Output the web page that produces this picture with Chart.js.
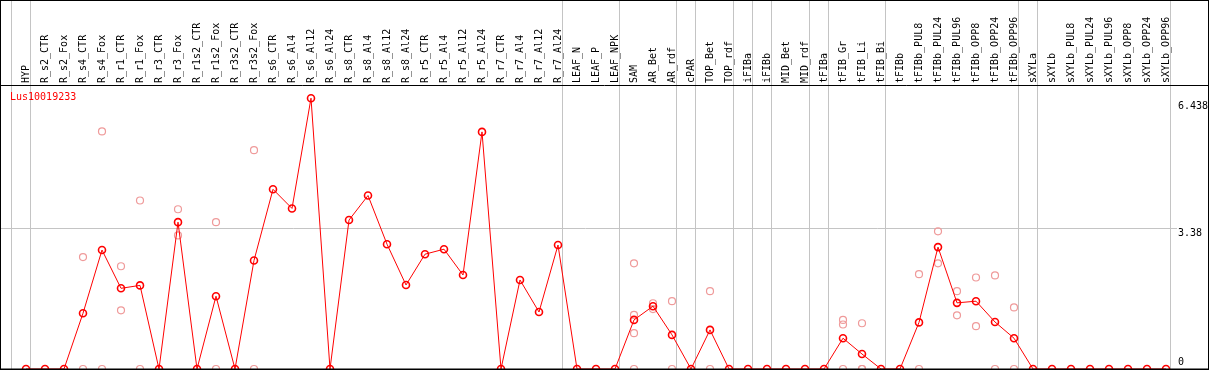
<!DOCTYPE html>
<html>
<head>
<meta charset="utf-8">
<script src="https://cdn.jsdelivr.net/npm/chart.js@4"></script>
<style>
  html, body { margin: 0; padding: 0; background: #fff; overflow: hidden; }
  #wrap { position: relative; width: 1209px; height: 370px; }
</style>
</head>
<body>
<div id="wrap"><canvas id="exprChart"></canvas></div>
<script>
// samples, in the order of the picture
const categories = [
    'HYP', 'R_s2_CTR', 'R_s2_Fox', 'R_s4_CTR', 'R_s4_Fox', 'R_r1_CTR', 'R_r1_Fox',
    'R_r3_CTR', 'R_r3_Fox', 'R_r1s2_CTR', 'R_r1s2_Fox', 'R_r3s2_CTR', 'R_r3s2_Fox',
    'R_s6_CTR', 'R_s6_Al4', 'R_s6_Al12', 'R_s6_Al24', 'R_s8_CTR', 'R_s8_Al4',
    'R_s8_Al12', 'R_s8_Al24', 'R_r5_CTR', 'R_r5_Al4', 'R_r5_Al12', 'R_r5_Al24',
    'R_r7_CTR', 'R_r7_Al4', 'R_r7_Al12', 'R_r7_Al24', 'LEAF_N', 'LEAF_P', 'LEAF_NPK',
    'SAM', 'AR_Bet', 'AR_rdf', 'cPAR', 'TOP_Bet', 'TOP_rdf', 'iFIBa', 'iFIBb',
    'MID_Bet', 'MID_rdf', 'tFIBa', 'tFIB_Gr', 'tFIB_Li', 'tFIB_Bi', 'tFIBb',
    'tFIBb_PUL8', 'tFIBb_PUL24', 'tFIBb_PUL96', 'tFIBb_OPP8', 'tFIBb_OPP24', 'tFIBb_OPP96',
    'sXYLa', 'sXYLb', 'sXYLb_PUL8', 'sXYLb_PUL24', 'sXYLb_PUL96', 'sXYLb_OPP8',
    'sXYLb_OPP24', 'sXYLb_OPP96'
];

// mean expression per sample
const meanValues = [
    0, 0, 0, 1.34, 2.86, 1.94, 2.01,
    0, 3.53, 0, 1.75, 0, 2.61,
    4.32, 3.86, 6.51, 0, 3.58, 4.17,
    3.00, 2.02, 2.76, 2.88, 2.26, 5.70,
    0, 2.14, 1.37, 2.98, 0, 0, 0,
    1.18, 1.51, 0.82, 0, 0.94, 0, 0, 0,
    0, 0, 0, 0.74, 0.36, 0, 0,
    1.12, 2.93, 1.59, 1.63, 1.13, 0.74,
    0, 0, 0, 0, 0, 0,
    0, 0
];

// single replicates (light circles)
const replicates = {
    'R_s4_CTR': [2.69, 0],
    'R_s4_Fox': [5.71, 0],
    'R_r1_CTR': [2.47, 1.41],
    'R_r1_Fox': [4.05, 0],
    'R_r3_Fox': [3.84, 3.21],
    'R_r1s2_Fox': [3.53, 0],
    'R_r3s2_Fox': [5.26, 0],
    'SAM': [2.54, 1.30, 0.86, 0],
    'AR_Bet': [1.58, 1.44],
    'AR_rdf': [1.63, 0],
    'TOP_Bet': [1.87, 0],
    'tFIB_Gr': [1.18, 1.07, 0],
    'tFIB_Li': [1.10, 0, 0],
    'tFIBb_PUL8': [2.28, 0],
    'tFIBb_PUL24': [3.31, 2.54],
    'tFIBb_PUL96': [1.87, 1.29],
    'tFIBb_OPP8': [2.20, 1.03],
    'tFIBb_OPP24': [2.25, 0],
    'tFIBb_OPP96': [1.48, 0]
};

// last sample of each tissue group (a grey line follows it)
const groupEnds = [
    '', 'HYP', 'R_r7_Al24', 'LEAF_NPK', 'AR_rdf', 'cPAR', 'TOP_rdf', 'iFIBa', 'iFIBb',
    'MID_rdf', 'tFIBa', 'tFIB_Bi', 'tFIBb_OPP96', 'sXYLa', 'sXYLb_OPP96'
];

const yTicks = [0, 3.38, 6.438];
const geneName = 'Lus10019233';

const FONT_FAMILY = '"DejaVu Sans Mono", "Liberation Mono", monospace';
const FONT = '10px ' + FONT_FAMILY;

const meanPoints = meanValues.map((v, i) => ({ x: i, y: v }));
const repPoints = [];
Object.keys(replicates).forEach(function(name) {
    const i = categories.indexOf(name);
    replicates[name].forEach(function(v) { repPoints.push({ x: i, y: v }); });
});

// grey separators, frame and labels
const decorPlugin = {
    id: 'decor',
    beforeDatasetsDraw(chart) {
        const ctx = chart.ctx;
        const xs = chart.scales.x;
        const area = chart.chartArea;
        ctx.save();
        ctx.strokeStyle = '#c4c4c4';
        ctx.lineWidth = 1;
        groupEnds.forEach(function(name) {
            const i = name === '' ? -1 : categories.indexOf(name);
            const px = Math.round(xs.getPixelForValue(i + 0.21)) + 0.5;
            ctx.beginPath();
            ctx.moveTo(px, 0);
            ctx.lineTo(px, area.bottom);
            ctx.stroke();
        });
        ctx.restore();
    },
    afterDraw(chart) {
        const ctx = chart.ctx;
        const ys = chart.scales.y;
        const area = chart.chartArea;
        const w = chart.width, h = chart.height;
        ctx.save();
        ctx.strokeStyle = '#000';
        ctx.lineWidth = 1;
        ctx.strokeRect(0.5, 0.5, w - 1, h - 1);
        ctx.beginPath();
        ctx.moveTo(0, 85.5);
        ctx.lineTo(w, 85.5);
        ctx.stroke();
        ctx.lineWidth = 2;
        ctx.beginPath();
        ctx.moveTo(0, area.bottom + 0.5);
        ctx.lineTo(w, area.bottom + 0.5);
        ctx.stroke();

        ctx.font = FONT;
        ctx.fillStyle = '#000';
        ctx.textAlign = 'left';
        yTicks.forEach(function(v) {
            const py = ys.getPixelForValue(v);
            if (v === 0) {
                ctx.textBaseline = 'bottom';
                ctx.fillText(String(v), 1178, py - 2);
            } else {
                ctx.textBaseline = 'top';
                ctx.fillText(String(v), 1178, py);
            }
        });

        ctx.fillStyle = '#ff0000';
        ctx.textBaseline = 'middle';
        ctx.fillText(geneName, 10, 97);
        ctx.restore();
    }
};

function createExprChart() {
    const ctx = document.getElementById('exprChart').getContext('2d');
    const exprChart = new Chart(ctx, {
        type: 'line',
        data: {
            datasets: [{
                label: 'mean',
                data: meanPoints,
                borderColor: '#ff0000',
                borderWidth: 1,
                pointStyle: 'circle',
                pointRadius: 3.5,
                pointBorderWidth: 1.6,
                pointBorderColor: '#ff0000',
                pointBackgroundColor: 'rgba(0,0,0,0)',
                tension: 0,
                clip: false
            }, {
                label: 'replicates',
                data: repPoints,
                showLine: false,
                pointStyle: 'circle',
                pointRadius: 3.5,
                pointBorderWidth: 1.2,
                pointBorderColor: '#ef9a9a',
                pointBackgroundColor: 'rgba(0,0,0,0)',
                clip: false
            }]
        },
        options: {
            responsive: true,
            maintainAspectRatio: false,
            animation: false,
            layout: { autoPadding: false, padding: { left: 1, right: 0, top: 0, bottom: 1 } },
            plugins: {
                legend: { display: false },
                tooltip: { enabled: false }
            },
            scales: {
                x: {
                    type: 'linear',
                    position: 'top',
                    min: -25 / 19,
                    max: 60 + 4 / 19,
                    bounds: 'data',
                    grid: { display: false, drawTicks: false },
                    border: { display: false },
                    afterBuildTicks: function(scale) {
                        scale.ticks = categories.map((c, i) => ({ value: i }));
                    },
                    afterFit: function(scale) { scale.height = 86; },
                    ticks: {
                        autoSkip: false,
                        minRotation: 90,
                        maxRotation: 90,
                        padding: 3,
                        labelOffset: 12,
                        color: '#000',
                        font: { family: FONT_FAMILY, size: 10 },
                        callback: function(v) { return categories[v]; }
                    }
                },
                y: {
                    position: 'right',
                    min: 0,
                    max: 6.803,
                    afterBuildTicks: function(scale) {
                        scale.ticks = yTicks.map(v => ({ value: v }));
                    },
                    afterFit: function(scale) { scale.width = 39; },
                    border: { display: false },
                    grid: {
                        color: c => c.tick && c.tick.value === 3.38 ? '#c4c4c4' : 'rgba(0,0,0,0)',
                        tickLength: 7
                    },
                    ticks: { display: false }
                }
            }
        },
        plugins: [decorPlugin]
    });
}

window.onload = function() {
    createExprChart();
};
</script>
</body>
</html>
